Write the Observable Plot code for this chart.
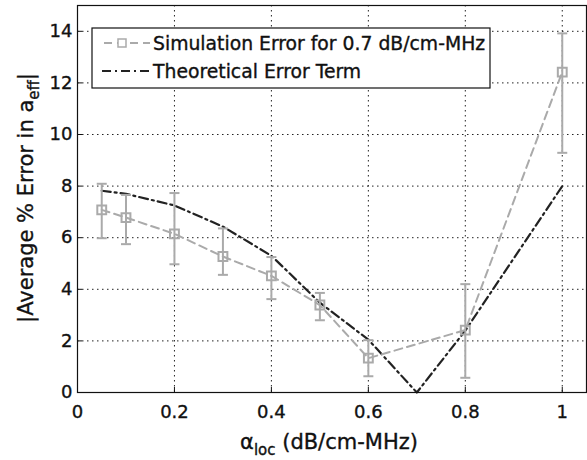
<!DOCTYPE html>
<html><head><meta charset="utf-8">
<script src="https://cdn.jsdelivr.net/npm/d3@7"></script>
<script src="https://cdn.jsdelivr.net/npm/@observablehq/plot@0.6"></script>
<style>body{margin:0;background:#fff;} svg text{stroke:#111;stroke-width:0.35px;}</style>
</head><body><div id="chart"></div>
<script>
const simX = [0.05, 0.1, 0.2, 0.3, 0.4, 0.5, 0.6, 0.8, 1.0];
const simY = [7.08, 6.78, 6.15, 5.27, 4.52, 3.39, 1.33, 2.42, 12.42];
const simLo = [5.98, 5.75, 4.97, 4.56, 3.62, 2.8, 0.63, 0.57, 9.29];
const simHi = [8.09, 7.66, 7.73, 6.36, 5.25, 3.86, 2.03, 4.2, 13.92];
const thX = [0.05, 0.1, 0.2, 0.3, 0.4, 0.5, 0.6, 0.7, 0.8, 1.0];
const thY = [7.82, 7.7, 7.25, 6.43, 5.3, 3.48, 2.05, 0, 2.4, 8.0];
const xTicks = [0, 0.2, 0.4, 0.6, 0.8, 1];
const yTicks = [0, 2, 4, 6, 8, 10, 12, 14];
const legendLabels = ["Simulation Error for 0.7 dB/cm-MHz", "Theoretical Error Term"];

const sim = simX.map((x, i) => ({x, y: simY[i], lo: simLo[i], hi: simHi[i]}));
const th = thX.map((x, i) => ({x, y: thY[i]}));
const gray = "#aaaaaa";
const dark = "#222222";
const font = "DejaVu Sans, Liberation Sans, sans-serif";
const cap = {draw(ctx, size) { ctx.moveTo(-5, 0); ctx.lineTo(5, 0); }};

const plot = Plot.plot({
  width: 587, height: 460,
  marginLeft: 77, marginRight: 1, marginTop: 5, marginBottom: 68,
  style: {fontFamily: font, fontSize: "18px", color: "#111", background: "#fff"},
  x: {domain: [0, 1.05], label: null},
  y: {domain: [0, 15], label: null},
  marks: [
    Plot.ruleX(xTicks.slice(1), {stroke: "#222", strokeDasharray: "1.5,3.5", strokeWidth: 1}),
    Plot.ruleY(yTicks.slice(1), {stroke: "#222", strokeDasharray: "1.5,3.5", strokeWidth: 1}),
    Plot.axisX({ticks: xTicks, tickFormat: d => String(d), tickSize: -5, tickPadding: 18, label: null, fontSize: 18}),
    Plot.axisY({ticks: yTicks, tickSize: -5, tickPadding: 10, label: null, fontSize: 18}),
    Plot.line(th, {x: "x", y: "y", stroke: dark, strokeWidth: 2.2, strokeDasharray: "9,4,2,4"}),
    Plot.line(sim, {x: "x", y: "y", stroke: gray, strokeWidth: 2, strokeDasharray: "8,5"}),
    Plot.ruleX(sim, {x: "x", y1: "lo", y2: "hi", stroke: gray, strokeWidth: 2}),
    Plot.dot(sim, {x: "x", y: "lo", symbol: cap, stroke: gray, strokeWidth: 2, fill: "none"}),
    Plot.dot(sim, {x: "x", y: "hi", symbol: cap, stroke: gray, strokeWidth: 2, fill: "none"}),
    Plot.dot(sim, {x: "x", y: "y", symbol: "square", r: 5, stroke: gray, strokeWidth: 2, fill: "none"}),
    Plot.frame({stroke: "#111", strokeWidth: 1.2})
  ]
});
document.getElementById("chart").appendChild(plot);

const svg = d3.select(plot);
// axis titles
const xt = svg.append("text").attr("x", 329).attr("y", 449).attr("text-anchor", "middle")
  .attr("font-family", font).attr("font-size", 21).attr("fill", "#111");
xt.append("tspan").text("α");
xt.append("tspan").attr("dy", 6).attr("font-size", 15).text("loc");
xt.append("tspan").attr("dy", -6).text(" (dB/cm-MHz)");

const yt = svg.append("text").attr("transform", "translate(33,198) rotate(-90)").attr("text-anchor", "middle")
  .attr("font-family", font).attr("font-size", 21).attr("fill", "#111");
yt.append("tspan").text("|Average % Error in a");
yt.append("tspan").attr("dy", 6).attr("font-size", 15).text("eff");
yt.append("tspan").attr("dy", -6).text("|");

// legend
const lg = svg.append("g");
lg.append("rect").attr("x", 92).attr("y", 28).attr("width", 398).attr("height", 60)
  .attr("fill", "#fff").attr("stroke", "#111").attr("stroke-width", 1.2);
lg.append("line").attr("x1", 104).attr("x2", 150).attr("y1", 43).attr("y2", 43)
  .attr("stroke", gray).attr("stroke-width", 2).attr("stroke-dasharray", "8,5");
lg.append("rect").attr("x", 118).attr("y", 39).attr("width", 8).attr("height", 8)
  .attr("fill", "#fff").attr("stroke", gray).attr("stroke-width", 1.5);
lg.append("line").attr("x1", 102).attr("x2", 150).attr("y1", 71).attr("y2", 71)
  .attr("stroke", dark).attr("stroke-width", 2.2).attr("stroke-dasharray", "9,4,2,4");
lg.append("text").attr("x", 153).attr("y", 50).attr("text-anchor", "start").attr("font-family", font)
  .attr("font-size", 18.8).attr("fill", "#111").text(legendLabels[0]);
lg.append("text").attr("x", 153).attr("y", 78).attr("text-anchor", "start").attr("font-family", font)
  .attr("font-size", 18.8).attr("fill", "#111").text(legendLabels[1]);
</script></body></html>
